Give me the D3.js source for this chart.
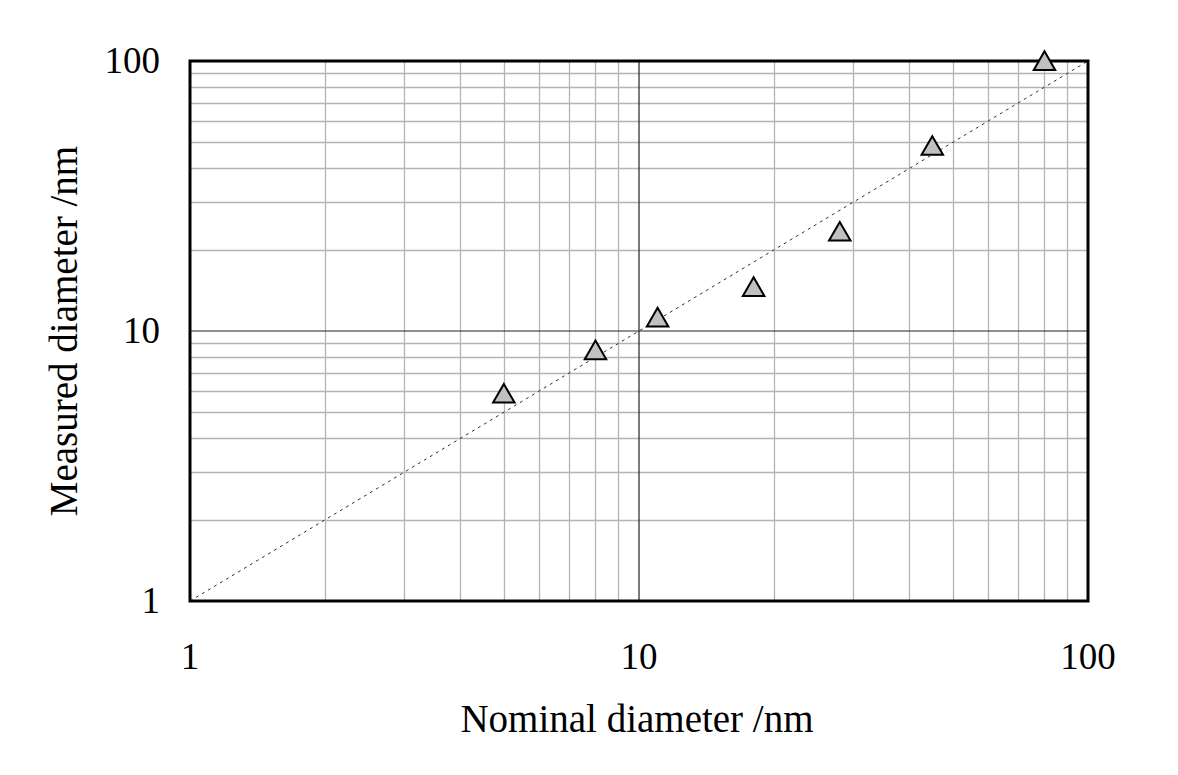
<!DOCTYPE html>
<html><head><meta charset="utf-8">
<script src="https://cdn.jsdelivr.net/npm/d3@7"></script>
<style>body{margin:0;background:#fff}svg{display:block}text{font-family:"Liberation Serif","Times New Roman",serif;fill:#000}</style>
</head><body><svg id="c" width="1178" height="775"></svg>
<script>
const nominal = [5, 8, 11, 18, 28, 45, 80];
const measured = [5.8, 8.4, 11.1, 14.4, 23.1, 48, 99];
const tickValues = [1, 10, 100];
const tickLabels = ["1", "10", "100"];
const xTitle = "Nominal diameter /nm";
const yTitle = "Measured diameter /nm";

const svg = d3.select("#c");
const L = 190, R = 1088, T = 61, B = 601;
const x = d3.scaleLog().domain([1, 100]).range([L, R]);
const y = d3.scaleLog().domain([1, 100]).range([B, T]);

const minor = [];
for (const d of [1, 10]) for (let k = 2; k <= 9; k++) minor.push(d * k);

const g = svg.append("g");
g.selectAll(".vx").data(minor).join("line")
  .attr("x1", d => Math.round(x(d)) + 0.5).attr("x2", d => Math.round(x(d)) + 0.5)
  .attr("y1", T).attr("y2", B).attr("stroke", "#b4b4b4").attr("stroke-width", 1.3);
g.selectAll(".hy").data(minor).join("line")
  .attr("y1", d => Math.round(y(d)) + 0.5).attr("y2", d => Math.round(y(d)) + 0.5)
  .attr("x1", L).attr("x2", R).attr("stroke", "#b4b4b4").attr("stroke-width", 1.3);
g.append("line").attr("x1", x(10)).attr("x2", x(10)).attr("y1", T).attr("y2", B)
  .attr("stroke", "#222").attr("stroke-width", 1.2);
g.append("line").attr("y1", y(10)).attr("y2", y(10)).attr("x1", L).attr("x2", R)
  .attr("stroke", "#222").attr("stroke-width", 1.2);

// 1:1 line
g.append("line").attr("x1", x(1)).attr("y1", y(1)).attr("x2", x(100)).attr("y2", y(100))
  .attr("stroke", "#333").attr("stroke-width", 1).attr("stroke-dasharray", "3,4");

// border
g.append("rect").attr("x", L).attr("y", T).attr("width", R - L).attr("height", B - T)
  .attr("fill", "none").attr("stroke", "#000").attr("stroke-width", 3);

// markers
const tri = d3.symbol().type(d3.symbolTriangle).size(200);
g.selectAll(".m").data(nominal).join("path")
  .attr("d", tri)
  .attr("transform", (d, i) => `translate(${x(d)},${y(measured[i]) + 1.5})`)
  .attr("fill", "#c0c0c0").attr("stroke", "#000").attr("stroke-width", 2);

// tick labels
g.selectAll(".xt").data(tickValues).join("text")
  .attr("x", d => x(d)).attr("y", 669).attr("text-anchor", "middle")
  .attr("font-size", 37).text((d, i) => tickLabels[i]);
g.selectAll(".yt").data(tickValues).join("text")
  .attr("x", 160).attr("y", d => y(d) + 11.5).attr("text-anchor", "end")
  .attr("font-size", 37).text((d, i) => tickLabels[i]);

// titles
svg.append("text").attr("x", 637).attr("y", 732).attr("text-anchor", "middle")
  .attr("font-size", 39).text(xTitle);
svg.append("text").attr("transform", `translate(77,331) rotate(-90)`).attr("text-anchor", "middle")
  .attr("font-size", 39).text(yTitle);
</script></body></html>
